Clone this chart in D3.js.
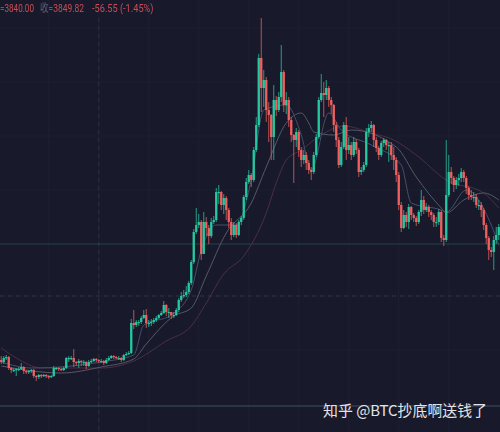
<!DOCTYPE html>
<html>
<head>
<meta charset="utf-8">
<script src="https://cdn.jsdelivr.net/npm/d3@7"></script>
<style>
html, body { margin: 0; padding: 0; background: #181a2b; overflow: hidden; }
svg { display: block; }
</style>
</head>
<body>
<div id="plot"></div>
<script>
// chart units, bottom of the chart is 0
var closes = [70,74,75,64,62,62,63,63,65,61, 60,61,62,56,55,57,56,57,56,55,
  56,64,64,63,62,64,74,74,74,70, 69,71,70,70,66,70,71,73,72,71,
  71,69,72,74,76,75,74,74,72,77, 78,79,109,107,110,110,114,117,109,109,
  110,112,114,117,119,127,120,120,117,117, 122,132,136,137,140,149,170,200,207,210,
  178,210,204,196,210,212,240,240,227,234, 222,210,197,207,197,210,214,235,250,257,
  252,282,307,374,344,352,322,317,295,332, 322,335,360,327,332,312,297,292,300,282,
  272,277,269,262,260,277,295,332,339,337, 344,332,327,307,292,267,285,307,282,287,
  277,290,282,260,262,267,300,304,307,292, 284,277,289,292,287,287,277,272,257,227,
  204,217,210,225,217,214,210,220,232,222, 225,220,217,210,210,220,194,192,237,260,
  254,247,252,254,260,254,244,237,235,235, 227,227,222,207,194,182,180,192,197,205];

var highs = [76,76,77,76,65,64,64,65,69,66, 62,62,63,63,57,58,58,58,58,57,
  57,66,65,65,64,65,75,76,76,83, 71,73,72,72,71,72,73,74,74,73,
  73,72,74,76,77,77,76,76,75,78, 80,81,113,122,112,112,116,122,123,112,
  113,114,116,118,121,131,128,124,120,120, 124,134,140,142,146,151,172,203,224,218,
  212,220,215,207,214,216,244,247,241,238, 236,224,214,210,209,212,216,237,254,262,
  259,285,315,378,414,362,355,330,318,347, 336,340,387,362,340,335,315,298,304,302,
  285,282,280,272,265,280,298,335,358,350, 352,346,335,328,310,295,290,310,315,295,
  290,295,293,284,265,270,304,308,311,308, 295,286,291,294,293,290,290,285,275,260,
  230,222,220,228,226,219,216,222,242,236, 229,227,222,219,215,223,222,197,292,277,
  265,256,255,258,264,262,256,246,242,240, 238,232,230,224,209,196,185,196,205,208];

var lows = [68,68,72,62,59,60,56,61,62,58, 58,58,59,54,51,53,54,55,54,53,
  54,55,62,61,61,61,63,70,72,65, 66,64,66,66,63,65,69,70,70,69,
  69,67,68,71,73,73,73,72,70,71, 76,77,78,103,105,106,108,113,104,105,
  106,108,110,113,116,118,116,114,113,114, 116,120,130,134,135,138,147,168,198,204,
  172,178,196,188,194,208,210,228,222,218, 212,204,192,195,194,196,207,212,232,248,
  245,250,280,305,320,325,310,290,272,272, 316,320,330,320,318,305,290,249,285,275,
  265,268,262,258,252,258,275,293,330,315, 332,325,318,300,285,264,265,283,272,278,
  272,275,278,255,257,260,265,295,300,285, 280,272,275,285,282,270,272,262,250,222,
  200,203,205,203,212,210,206,208,216,218, 220,215,212,205,205,207,190,186,190,235,
  248,240,243,246,250,250,238,232,232,230, 224,222,215,202,188,172,175,162,188,192];

var startOpen = 72;

// moving averages, candle index and value
var ma50Idx = [0,12,40,53,57,68,76,80,86,94,100,105,114,120,124,131,136,148,160,164,176,178,186,196,199];
var ma50Val = [70,64,70,77,107,117,142,182,207,207,252,322,327,297,262,319,302,287,267,229,222,220,242,207,187];
var ma100Idx = [0,24,40,53,58,69,76,82,90,100,106,114,120,123,125,133,140,158,166,176,178,185,193,199];
var ma100Val = [66,59,65,73,88,116,124,156,199,229,265,309,319,309,300,297,302,285,255,224,219,232,239,232];
var ma200Idx = [0,6,16,40,53,66,76,82,89,97,106,110,114,120,128,137,148,157,166,178,193,199];
var ma200Val = [84,74,64,64,71,91,106,129,158,176,219,249,272,282,297,306,299,292,277,252,239,224];

var gridCandles = [19,39,59,79,99,119,139,159,179];
var gridValues = [26,82,136,188,242,296,350,404];
var dashedCandle = 39;
var dashedValue = 136;
var solidLines = [
  {v: 188, color: "#263f4a", width: 1},
  {v: 26, color: "#3f4e64", width: 1.2}
];

var headerParts = [
  {label: "=", t: "3840.00", x: 0, w: 34},
  {label: "收=", t: "3849.82", x: 40, w: 44},
  {label: "", t: "-56.55 (-1.45%)", x: 92, w: 61.5}
];
var watermark = "知乎 @BTC抄底啊送钱了";

var width = 500, height = 432;
var up = "#25c8a0", down = "#f0605f";

var svg = d3.select("#plot").append("svg")
    .attr("width", width)
    .attr("height", height)
    .attr("viewBox", "0 0 " + width + " " + height);

var defs = svg.append("defs");
defs.append("filter")
    .attr("id", "soft")
    .append("feGaussianBlur")
    .attr("stdDeviation", 0.6);
defs.append("filter")
    .attr("id", "softText")
    .append("feGaussianBlur")
    .attr("stdDeviation", 0.25);

svg.append("rect")
    .attr("width", width)
    .attr("height", height)
    .attr("fill", "#181a2b");

var x = d3.scaleBand().domain(d3.range(closes.length)).range([0, width]);
var y = d3.scaleLinear().domain([0, height]).range([height, 0]);
var cx = function(i) { return x(i) + x.bandwidth() / 2; };

// grid
svg.append("g").selectAll("line")
    .data(gridCandles)
    .enter().append("line")
    .attr("x1", cx).attr("x2", cx)
    .attr("y1", 0).attr("y2", height)
    .attr("stroke", "#1c1f33")
    .attr("stroke-width", 1);

svg.append("g").selectAll("line")
    .data(gridValues)
    .enter().append("line")
    .attr("x1", 0).attr("x2", width)
    .attr("y1", y).attr("y2", y)
    .attr("stroke", "#1b1e31")
    .attr("stroke-width", 1);

svg.append("line")
    .attr("x1", cx(dashedCandle)).attr("x2", cx(dashedCandle))
    .attr("y1", 18).attr("y2", height)
    .attr("stroke", "#2e3247")
    .attr("stroke-dasharray", "4 4");

svg.append("line")
    .attr("x1", 0).attr("x2", width)
    .attr("y1", y(dashedValue)).attr("y2", y(dashedValue))
    .attr("stroke", "#2e3247")
    .attr("stroke-dasharray", "4 4");

svg.append("g").selectAll("line")
    .data(solidLines)
    .enter().append("line")
    .attr("x1", 0).attr("x2", width)
    .attr("y1", function(d) { return y(d.v); })
    .attr("y2", function(d) { return y(d.v); })
    .attr("stroke", function(d) { return d.color; })
    .attr("stroke-width", function(d) { return d.width; });

var chart = svg.append("g").attr("filter", "url(#soft)");

// moving averages under the candles
function drawMa(idx, val, color) {
    var line = d3.line()
        .x(function(d) { return cx(d); })
        .y(function(d, i) { return y(val[i]); })
        .curve(d3.curveMonotoneX);
    chart.append("path")
        .attr("d", line(idx))
        .attr("fill", "none")
        .attr("stroke", color)
        .attr("stroke-width", 1);
}
drawMa(ma200Idx, ma200Val, "#4c2e42");
drawMa(ma100Idx, ma100Val, "#55586a");
drawMa(ma50Idx, ma50Val, "#454f6b");

var openOf = function(i) { return i === 0 ? startOpen : closes[i - 1]; };
var colorOf = function(i) { return closes[i] >= openOf(i) ? up : down; };

var candles = chart.append("g").selectAll("g")
    .data(d3.range(closes.length))
    .enter().append("g");

candles.append("line")
    .attr("x1", cx).attr("x2", cx)
    .attr("y1", function(i) { return y(highs[i]); })
    .attr("y2", function(i) { return y(lows[i]); })
    .attr("stroke", colorOf)
    .attr("stroke-opacity", 0.75)
    .attr("stroke-width", 1);

candles.append("rect")
    .attr("x", function(i) { return x(i) + 0.1; })
    .attr("width", x.bandwidth() - 0.2)
    .attr("y", function(i) { return y(Math.max(openOf(i), closes[i])); })
    .attr("height", function(i) { return Math.max(1.2, Math.abs(y(closes[i]) - y(openOf(i)))); })
    .attr("fill", colorOf);

// header values
var header = svg.append("g").attr("filter", "url(#softText)").selectAll("text")
    .data(headerParts)
    .enter().append("text")
    .attr("x", function(d) { return d.x; })
    .attr("y", 12)
    .attr("font-family", "Roboto, 'Noto Sans CJK SC', sans-serif")
    .attr("font-size", 11)
    .attr("textLength", function(d) { return d.w; })
    .attr("lengthAdjust", "spacingAndGlyphs");

header.append("tspan")
    .attr("fill", "#5a6078")
    .text(function(d) { return d.label; });

header.append("tspan")
    .attr("fill", "#c84c54")
    .text(function(d) { return d.t; });

svg.append("text")
    .attr("x", 323)
    .attr("y", 416)
    .attr("font-family", "'Noto Sans CJK SC', sans-serif")
    .attr("font-size", 15)
    .attr("textLength", 164)
    .attr("lengthAdjust", "spacingAndGlyphs")
    .attr("fill", "#e4e4e8")
    .text(watermark);
</script>
</body>
</html>
